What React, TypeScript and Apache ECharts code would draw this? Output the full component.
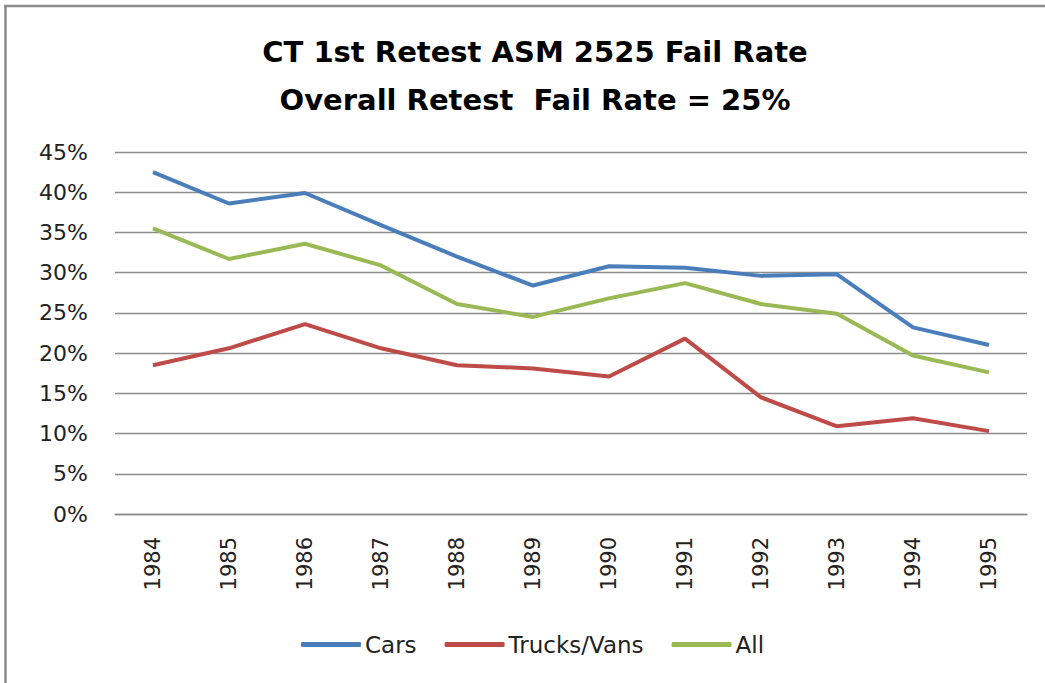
import React, { useEffect, useRef } from "react";
import * as echarts from "echarts";

const years = ["1984", "1985", "1986", "1987", "1988", "1989", "1990", "1991", "1992", "1993", "1994", "1995"];
const cars = [42.5, 38.6, 39.9, 35.9, 32.0, 28.4, 30.8, 30.6, 29.6, 29.8, 23.2, 21.0];
const trucksVans = [18.5, 20.6, 23.6, 20.6, 18.5, 18.1, 17.1, 21.8, 14.5, 10.9, 11.9, 10.3];
const all = [35.5, 31.7, 33.6, 30.9, 26.1, 24.5, 26.8, 28.7, 26.1, 24.9, 19.7, 17.6];
const titleLines = ["CT 1st Retest ASM 2525 Fail Rate", "Overall Retest  Fail Rate = 25%"];

export default function App() {
  const ref = useRef<HTMLDivElement>(null);
  useEffect(() => {
    if (!ref.current) return;
    const chart = echarts.init(ref.current, null, { renderer: "svg" });
    const font = "'DejaVu Sans', sans-serif";
    chart.setOption({
      animation: false,
      backgroundColor: "#ffffff",
      title: {
        text: titleLines.join("\n"),
        left: 530,
        textAlign: "center",
        top: 23,
        textStyle: {
          fontFamily: font,
          fontWeight: "bold",
          fontSize: 29,
          lineHeight: 48,
          color: "#000000",
        },
      },
      graphic: [
        { type: "line", shape: { x1: 4, y1: 6, x2: 1045, y2: 6 }, style: { stroke: "#8c8c8c", lineWidth: 2.5 } },
        { type: "line", shape: { x1: 5.5, y1: 5, x2: 5.5, y2: 683 }, style: { stroke: "#8c8c8c", lineWidth: 2.5 } },
      ],
      legend: {
        left: 296,
        top: 628,
        icon: "roundRect",
        itemWidth: 60,
        itemHeight: 5,
        itemGap: 28,
        textStyle: { fontFamily: font, fontSize: 23, color: "#222222", padding: [0, 0, 0, -1] },
        data: ["Cars", "Trucks/Vans", "All"],
      },
      grid: { left: 115, right: 18, top: 152, bottom: 169, containLabel: false },
      xAxis: {
        type: "category",
        data: years,
        boundaryGap: true,
        axisLine: { show: true, lineStyle: { color: "#8c8c8c", width: 1.3 } },
        axisTick: { show: false },
        axisLabel: {
          rotate: 90,
          margin: 23,
          fontFamily: font,
          fontSize: 21,
          color: "#222222",
        },
      },
      yAxis: {
        type: "value",
        min: 0,
        max: 45,
        interval: 5,
        axisLine: { show: false },
        axisTick: { show: false },
        splitLine: { lineStyle: { color: "#8c8c8c", width: 1.3 } },
        axisLabel: {
          margin: 27,
          fontFamily: font,
          fontSize: 22,
          color: "#222222",
          formatter: (v: number) => `${v}%`,
        },
      },
      series: [
        { name: "Cars", type: "line", data: cars, symbol: "none", lineStyle: { width: 4, color: "#4A7EBB" }, itemStyle: { color: "#4A7EBB" } },
        { name: "Trucks/Vans", type: "line", data: trucksVans, symbol: "none", lineStyle: { width: 4, color: "#BE4B48" }, itemStyle: { color: "#BE4B48" } },
        { name: "All", type: "line", data: all, symbol: "none", lineStyle: { width: 4, color: "#98B954" }, itemStyle: { color: "#98B954" } },
      ],
    });
    return () => chart.dispose();
  }, []);
  return <div ref={ref} style={{ position: "absolute", left: 0, top: 0, width: 1045, height: 683 }} />;
}
